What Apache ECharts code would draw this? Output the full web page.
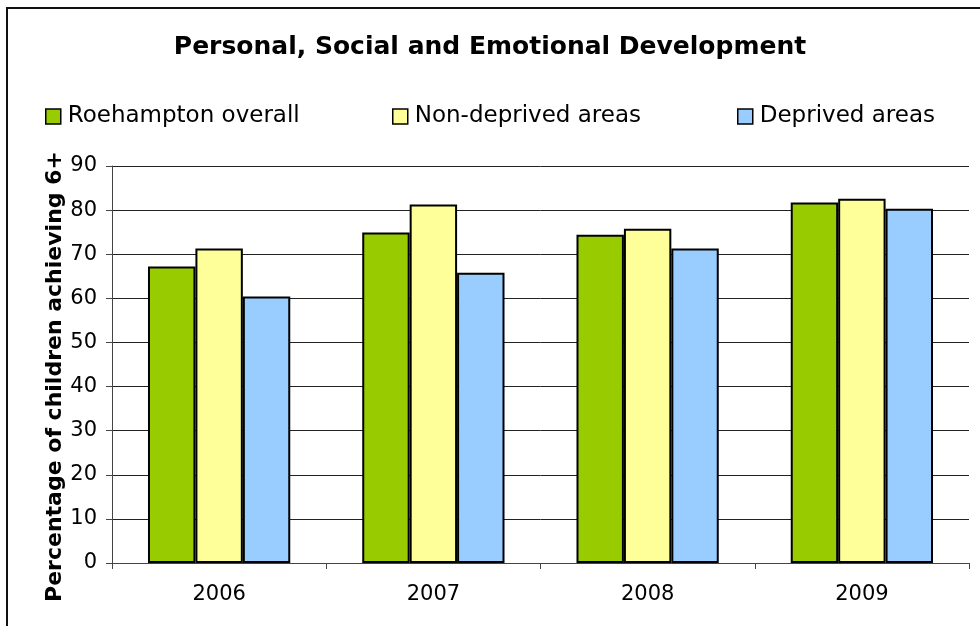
<!DOCTYPE html>
<html>
<head>
<meta charset="utf-8">
<script src="https://cdn.jsdelivr.net/npm/echarts@6/dist/echarts.min.js"></script>
<style>html,body{margin:0;padding:0;background:#fff;}#c{width:980px;height:626px;}</style>
</head>
<body>
<div id="c"></div>
<script>
const categories = ['2006', '2007', '2008', '2009'];
const roehamptonOverall = [67.2, 74.9, 74.4, 81.7];
const nonDeprivedAreas = [71.3, 81.3, 75.8, 82.6];
const deprivedAreas = [60.4, 65.8, 71.3, 80.3];
const seriesNames = ['Roehampton overall', 'Non-deprived areas', 'Deprived areas'];
const seriesColors = ['#99cc00', '#ffff99', '#99ccff'];
const titleText = 'Personal, Social and Emotional Development';
const yAxisTitle = 'Percentage of children achieving 6+';

const FONT = '"DejaVu Sans", Verdana, sans-serif';
const chart = echarts.init(document.getElementById('c'), null, {renderer: 'canvas'});
const legendLefts = [40, 387, 732];
const legends = seriesNames.map((n, i) => ({
  top: 100, left: legendLefts[i], itemWidth: 15, itemHeight: 15, itemGap: 0,
  textStyle: {fontFamily: FONT, fontSize: 23, color: '#000', padding: [0, 0, 0, 2]},
  itemStyle: {borderColor: '#000', borderWidth: 1.5},
  data: [{name: n, icon: 'rect'}]
}));
const series = seriesNames.map((n, i) => ({
  name: n, type: 'bar',
  data: [roehamptonOverall, nonDeprivedAreas, deprivedAreas][i],
  barGap: '0%', barCategoryGap: '33.6%',
  itemStyle: {color: seriesColors[i], borderColor: '#000', borderWidth: 2}
}));
chart.setOption({
  animation: false,
  backgroundColor: '#fff',
  graphic: [{
    type: 'rect', shape: {x: 7, y: 8, width: 1000, height: 700},
    style: {fill: 'none', stroke: '#111', lineWidth: 2}, z: -1
  }],
  title: {
    text: titleText, left: 'center', top: 30,
    textStyle: {fontFamily: FONT, fontWeight: 'bold', fontSize: 25, color: '#000'}
  },
  legend: legends,
  grid: {left: 112, right: 11, top: 166, bottom: 63, containLabel: false},
  xAxis: {
    type: 'category', data: categories,
    axisLine: {lineStyle: {color: '#444', width: 1}},
    axisTick: {show: true, length: 6, lineStyle: {color: '#444'}},
    axisLabel: {fontFamily: FONT, fontSize: 21, color: '#000', margin: 21}
  },
  yAxis: {
    type: 'value', min: 0, max: 90, interval: 10,
    name: yAxisTitle, nameLocation: 'middle', nameGap: 46, nameMoveOverlap: false,
    nameTextStyle: {fontFamily: FONT, fontWeight: 'bold', fontSize: 22, color: '#000', padding: [0, 24, 0, 0]},
    axisLine: {show: true, lineStyle: {color: '#444', width: 1}},
    axisTick: {show: true, length: 6, lineStyle: {color: '#444'}},
    splitLine: {lineStyle: {color: '#222', width: 1}},
    axisLabel: {fontFamily: FONT, fontSize: 21, color: '#000', margin: 15}
  },
  series: series
});
</script>
</body>
</html>
